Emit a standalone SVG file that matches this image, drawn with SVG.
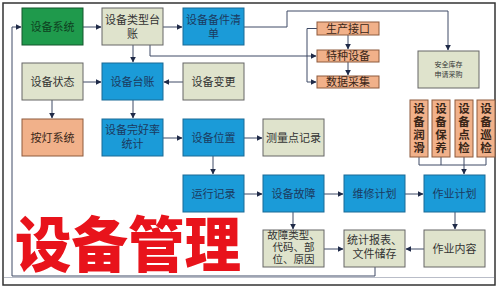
<svg xmlns="http://www.w3.org/2000/svg" width="500" height="289" viewBox="0 0 500 289">
<defs>
<style>
text{font-family:"Noto Sans CJK SC","Noto Sans",sans-serif;text-anchor:middle;font-size:11px}
.blue rect{fill:#1b9bd8;stroke:#1a6a96;stroke-width:1}
.blue text{fill:#1b3a60}
.green rect{fill:#1f9a4c;stroke:#14562c;stroke-width:1}
.green text{fill:#0e3f1f}
.beige rect{fill:#dfe3cc;stroke:#666;stroke-width:1}
.beige text{fill:#333}
.orange rect{fill:#f1b18a;stroke:#8d5a3c;stroke-width:1}
.orange text{fill:#3a2618}
.vt{font-size:11.5px;font-weight:bold;writing-mode:vertical-rl;letter-spacing:1.5px}
.conn path{fill:none;stroke:#3e4a66;stroke-width:1}
.conn .arr{marker-end:url(#ah)}
</style>
<marker id="ah" viewBox="0 0 10 10" refX="9" refY="5" markerWidth="6" markerHeight="6" orient="auto" markerUnits="userSpaceOnUse">
<path d="M0,0 L10,5 L0,10 z" fill="#1f2a48"/>
</marker>
</defs>
<rect x="0" y="0" width="500" height="289" fill="#fff"/>
<rect x="3" y="3" width="492" height="282" fill="none" stroke="#333" stroke-width="1.5"/>
<line x1="4" y1="277.5" x2="494" y2="277.5" stroke="#b9bdc8" stroke-width="1"/>

<g class="conn">
<path class="arr" d="M83,27 H101"/>
<path class="arr" d="M163,27 H182"/>
<path class="arr" d="M244,27 H287 V11 H448 V50"/>
<path class="arr" d="M133,45 V62"/>
<path class="arr" d="M150,45 V56 H316"/>
<path d="M317,28.5 H307 V82"/>
<path class="arr" d="M307,82 H316"/>
<path class="arr" d="M348,35 V49"/>
<path class="arr" d="M348,62 V75"/>
<path class="arr" d="M83,82 H101"/>
<path class="arr" d="M183,82 H164"/>
<path class="arr" d="M52,100 V118"/>
<path class="arr" d="M133,100 V118"/>
<path class="arr" d="M163,138 H182"/>
<path class="arr" d="M244,138 H262"/>
<path class="arr" d="M213,156 V174"/>
<path d="M419,157 V165 M441,157 V165 M464,157 V165 M486,157 V165 M419,165 H486"/>
<path class="arr" d="M464,165 V174"/>
<path class="arr" d="M244,194 H262"/>
<path class="arr" d="M324,194 H343"/>
<path class="arr" d="M405,194 H423"/>
<path class="arr" d="M293,212 V229"/>
<path class="arr" d="M455,212 V229"/>
<path class="arr" d="M324,249 H343"/>
<path class="arr" d="M424,249 H406"/>
<path class="arr" d="M375,267 V276 H12 V27 H21"/>
</g>

<g id="n-sys" class="green"><rect x="22" y="8" width="61" height="37"/><text x="52.5" y="31">设备系统</text></g>
<g id="n-type" class="beige"><rect x="102" y="8" width="61" height="37"/><text x="132.5" y="24">设备类型台<tspan x="132.5" dy="14">账</tspan></text></g>
<g id="n-spare" class="blue"><rect x="183" y="8" width="61" height="37"/><text x="213.5" y="24">设备备件清<tspan x="213.5" dy="14">单</tspan></text></g>
<g id="n-prod" class="orange"><rect x="317" y="22" width="62" height="13"/><text x="348" y="32.5">生产接口</text></g>
<g id="n-special" class="orange"><rect x="317" y="50" width="62" height="12"/><text x="348" y="60">特种设备</text></g>
<g id="n-data" class="orange"><rect x="317" y="76" width="62" height="12"/><text x="348" y="86">数据采集</text></g>
<g id="n-stock" class="beige"><rect x="418" y="51" width="61" height="37"/><text x="448.5" y="67" style="font-size:7px">安全库存<tspan x="448.5" dy="10">申请采购</tspan></text></g>

<g id="n-state" class="beige"><rect x="22" y="63" width="61" height="37"/><text x="52.5" y="86">设备状态</text></g>
<g id="n-ledger" class="blue"><rect x="102" y="63" width="61" height="37"/><text x="132.5" y="86">设备台账</text></g>
<g id="n-change" class="beige"><rect x="183" y="63" width="61" height="37"/><text x="213.5" y="86">设备变更</text></g>

<g id="n-andon" class="orange"><rect x="22" y="119" width="61" height="37"/><text x="52.5" y="142">按灯系统</text></g>
<g id="n-rate" class="blue"><rect x="102" y="119" width="61" height="37"/><text x="132.5" y="134">设备完好率<tspan x="132.5" dy="14">统计</tspan></text></g>
<g id="n-loc" class="blue"><rect x="183" y="119" width="61" height="37"/><text x="213.5" y="142">设备位置</text></g>
<g id="n-meas" class="beige"><rect x="263" y="119" width="61" height="37"/><text x="293.5" y="142">测量点记录</text></g>

<g id="n-lube" class="orange"><rect x="410" y="100" width="18" height="57"/><text class="vt" x="419" y="129">设备润滑</text></g>
<g id="n-maint" class="orange"><rect x="432" y="100" width="18" height="57"/><text class="vt" x="441" y="129">设备保养</text></g>
<g id="n-check" class="orange"><rect x="455" y="100" width="18" height="57"/><text class="vt" x="464" y="129">设备点检</text></g>
<g id="n-patrol" class="orange"><rect x="477" y="100" width="18" height="57"/><text class="vt" x="486" y="129">设备巡检</text></g>

<g id="n-run" class="blue"><rect x="183" y="175" width="61" height="37"/><text x="213.5" y="198">运行记录</text></g>
<g id="n-fault" class="blue"><rect x="263" y="175" width="61" height="37"/><text x="293.5" y="198">设备故障</text></g>
<g id="n-repair" class="blue"><rect x="344" y="175" width="61" height="37"/><text x="374.5" y="198">维修计划</text></g>
<g id="n-job" class="blue"><rect x="424" y="175" width="61" height="37"/><text x="454.5" y="198">作业计划</text></g>

<g id="n-ftype" class="beige"><rect x="263" y="230" width="61" height="37"/><text x="293.5" y="239" style="font-size:10.5px">故障类型、<tspan x="293.5" dy="12">代码、部</tspan><tspan x="293.5" dy="12">位、原因</tspan></text></g>
<g id="n-stat" class="beige"><rect x="344" y="230" width="61" height="37"/><text x="374.5" y="244">统计报表、<tspan x="374.5" dy="14">文件储存</tspan></text></g>
<g id="n-jobc" class="beige"><rect x="424" y="230" width="61" height="37"/><text x="454.5" y="253">作业内容</text></g>

<text x="15" y="267" textLength="226" lengthAdjust="spacingAndGlyphs" style="text-anchor:start;font-size:60px;font-weight:900;fill:#e8131b">设备管理</text>
</svg>
